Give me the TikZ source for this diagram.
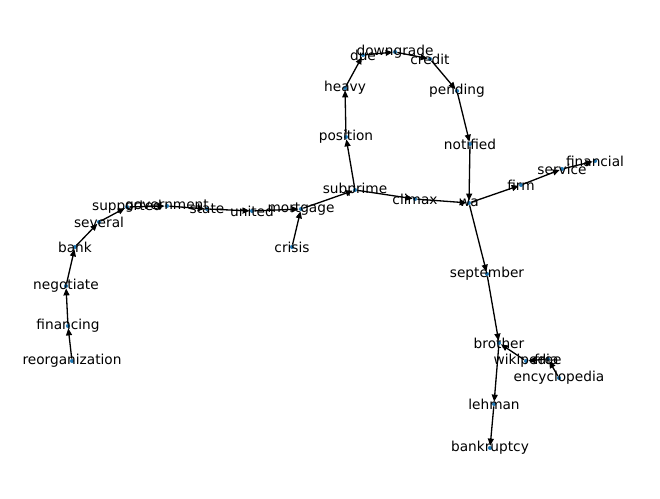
\documentclass[tikz,border=0pt]{standalone}
\usepackage{fontspec}
\setmainfont{DejaVu Sans}
\usetikzlibrary{arrows.meta}
\definecolor{dotblue}{HTML}{1F77B4}

\tikzset{
    vertex/.style={circle, fill=dotblue, inner sep=0pt, minimum size=2.3pt},
    word/.style={inner sep=0pt, anchor=center, font=\fontsize{7.8}{9}\selectfont},
    link/.style={line width=0.75pt, -{Triangle[length=4pt, width=3.4pt]}},
}

\begin{document}
\begin{tikzpicture}[x=0.02cm, y=-0.02cm]
    \useasboundingbox (0, 0) rectangle (660, 499);

    % --- Dots (left chain)
    \node[vertex] (reorganization) at (72, 361) {};
    \node[vertex] (financing) at (68, 326) {};
    \node[vertex] (negotiate) at (66, 286) {};
    \node[vertex] (bank) at (75, 247) {};
    \node[vertex] (several) at (99, 222) {};
    \node[vertex] (supported) at (127, 207) {};
    \node[vertex] (government) at (167, 206) {};
    \node[vertex] (state) at (207, 209) {};
    \node[vertex] (united) at (252, 211) {};
    \node[vertex] (mortgage) at (301, 209) {};
    \node[vertex] (crisis) at (292, 247) {};
    \node[vertex] (subprime) at (355, 190) {};
    \node[vertex] (climax) at (415, 199) {};
    \node[vertex] (wa) at (469, 203) {};

    % --- Dots (upper loop)
    \node[vertex] (position) at (346, 137) {};
    \node[vertex] (heavy) at (345, 88) {};
    \node[vertex] (due) at (363, 55) {};
    \node[vertex] (downgrade) at (395, 52) {};
    \node[vertex] (credit) at (430, 59) {};
    \node[vertex] (pending) at (457, 91) {};
    \node[vertex] (notified) at (470, 144) {};

    % --- Dots (right side)
    \node[vertex] (firm) at (521, 185) {};
    \node[vertex] (service) at (562, 169) {};
    \node[vertex] (financial) at (595, 161) {};
    \node[vertex] (september) at (487, 274) {};
    \node[vertex] (brother) at (499, 343) {};
    \node[vertex] (wikipedia) at (526, 361) {};
    \node[vertex] (free) at (548, 359) {};
    \node[vertex] (encyclopedia) at (559, 378) {};
    \node[vertex] (lehman) at (494, 404) {};
    \node[vertex] (bankruptcy) at (490, 448) {};

    % Edges
    \draw[link] (reorganization) -- (financing);
    \draw[link] (financing) -- (negotiate);
    \draw[link] (negotiate) -- (bank);
    \draw[link] (bank) -- (several);
    \draw[link] (several) -- (supported);
    \draw[link] (supported) -- (government);
    \draw[link] (government) -- (state);
    \draw[link] (state) -- (united);
    \draw[link] (united) -- (mortgage);
    \draw[link] (crisis) -- (mortgage);
    \draw[link] (mortgage) -- (subprime);
    \draw[link] (subprime) -- (climax);
    \draw[link] (climax) -- (wa);
    \draw[link] (subprime) -- (position);
    \draw[link] (position) -- (heavy);
    \draw[link] (heavy) -- (due);
    \draw[link] (due) -- (downgrade);
    \draw[link] (downgrade) -- (credit);
    \draw[link] (credit) -- (pending);
    \draw[link] (pending) -- (notified);
    \draw[link] (notified) -- (wa);
    \draw[link] (wa) -- (firm);
    \draw[link] (firm) -- (service);
    \draw[link] (service) -- (financial);
    \draw[link] (wa) -- (september);
    \draw[link] (september) -- (brother);
    \draw[link] (brother) -- (lehman);
    \draw[link] (lehman) -- (bankruptcy);
    \draw[link] (encyclopedia) -- (free);
    \draw[link] (free) -- (wikipedia);
    \draw[link] (wikipedia) -- (brother);

    % Labels on top
    \foreach \n in {reorganization, financing, negotiate, bank, several,
        supported, government, state, united, mortgage, crisis, subprime,
        climax, wa, position, heavy, due, downgrade, credit, pending,
        notified, firm, service, financial, september, brother, wikipedia,
        free, encyclopedia, lehman, bankruptcy}
        \node[word] at (\n) {\n};
\end{tikzpicture}
\end{document}
